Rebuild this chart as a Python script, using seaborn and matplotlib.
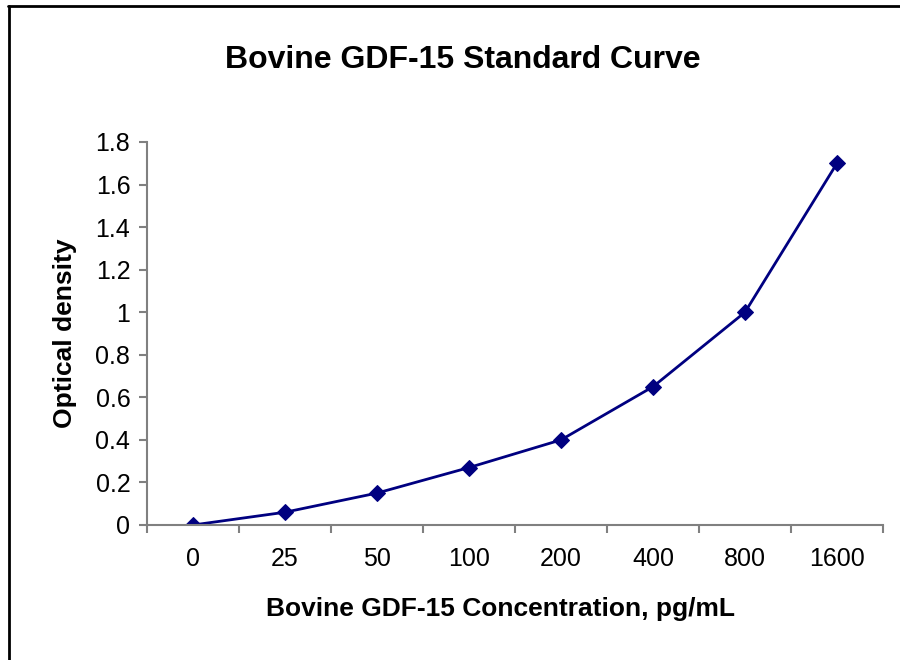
import matplotlib
matplotlib.use('Agg')
import matplotlib.pyplot as plt
import seaborn as sns
import pandas as pd

# Standard curve data
concentrations = ['0', '25', '50', '100', '200', '400', '800', '1600']
optical_density = [0.0, 0.06, 0.15, 0.27, 0.40, 0.65, 1.0, 1.70]

sns.set_style('white')
plt.rcParams['font.family'] = ['Liberation Sans', 'DejaVu Sans']
plt.rcParams['text.color'] = 'black'
plt.rcParams['axes.labelcolor'] = 'black'
plt.rcParams['xtick.color'] = 'black'
plt.rcParams['ytick.color'] = 'black'

df = pd.DataFrame({'conc': concentrations, 'od': optical_density})
df['pos'] = range(len(df))

fig = plt.figure(figsize=(9, 6.6), dpi=100)
ax = fig.add_axes([147 / 900, 1 - 525 / 660, 736 / 900, 383 / 660])

sns.lineplot(data=df, x='pos', y='od', ax=ax, color='#000080', linewidth=2,
             marker='D', markersize=8.5, markeredgecolor='#000080')

# Category axis like a spreadsheet chart
ax.set_xlim(-0.5, len(concentrations) - 0.5)
ax.set_xticks(range(len(concentrations)))
ax.set_xticklabels(concentrations)
ax.set_xticks([i - 0.5 for i in range(len(concentrations) + 1)], minor=True)
ax.tick_params(axis='x', which='major', length=0, pad=16, labelsize=18,
               labelcolor='black')
ax.tick_params(axis='x', which='minor', length=6, width=1.5, color='#808080',
               direction='out')

ax.set_ylim(0, 1.8)
ax.set_yticks([0, 0.2, 0.4, 0.6, 0.8, 1, 1.2, 1.4, 1.6, 1.8])
ax.set_yticklabels(['0', '0.2', '0.4', '0.6', '0.8', '1', '1.2', '1.4', '1.6', '1.8'])
ax.tick_params(axis='y', length=6, width=1.5, color='#808080', direction='out',
               labelsize=18, pad=6, labelcolor='black')
ax.yaxis.set_ticks_position('left')
ax.xaxis.set_ticks_position('bottom')

for side in ['top', 'right']:
    ax.spines[side].set_visible(False)
for side in ['left', 'bottom']:
    ax.spines[side].set_color('#808080')
    ax.spines[side].set_linewidth(1.5)

ax.set_xlabel('Bovine GDF-15 Concentration, pg/mL', fontsize=19, fontweight='bold',
              labelpad=20)
ax.xaxis.set_label_coords((500 - 147) / 736, -0.22)
ax.xaxis.label.set_va('center')
ax.set_ylabel('Optical density', fontsize=19, fontweight='bold', labelpad=13)

fig.text(463 / 900, 1 - 60 / 660, 'Bovine GDF-15 Standard Curve', fontsize=23,
         fontweight='bold', ha='center', va='center')

# Outer chart border (top and left visible)
fig.add_artist(plt.Line2D([8 / 900, 1.0], [1 - 6 / 660, 1 - 6 / 660],
                          color='black', linewidth=2, transform=fig.transFigure))
fig.add_artist(plt.Line2D([9 / 900, 9 / 900], [0, 1 - 6 / 660],
                          color='black', linewidth=2, transform=fig.transFigure))

fig.savefig('out.png', dpi=100, facecolor='white')
